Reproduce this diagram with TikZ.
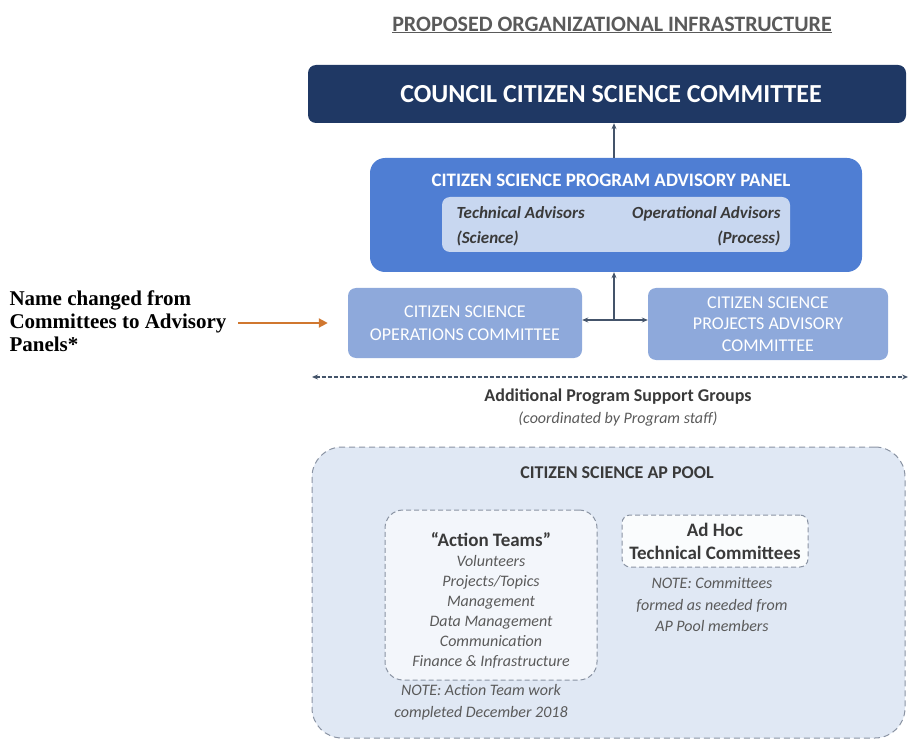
\documentclass[tikz,border=0pt]{standalone}
\usepackage{fontspec}
\setmainfont{Carlito}
\newfontfamily\notefont{Liberation Serif}
\usepackage{xcolor}
\usetikzlibrary{positioning,arrows.meta}
\definecolor{navyblue}{HTML}{1F3864}
\definecolor{panelblue}{HTML}{4F7ED3}
\definecolor{innerblue}{HTML}{C8D7F0}
\definecolor{cmtblue}{HTML}{8EA9DB}
\definecolor{poolblue}{HTML}{E0E8F4}
\definecolor{slate}{HTML}{44546A}
\definecolor{darktext}{HTML}{3A3A3A}
\definecolor{greytext}{HTML}{5A5A5A}
\definecolor{dashgrey}{HTML}{8A93A3}
\definecolor{arroworange}{HTML}{D0772F}

\begin{document}
\begin{tikzpicture}[x=1pt,y=-1pt,
  box/.style={rounded corners=#1, inner sep=0pt},
  box/.default=8pt,
  dashbox/.style={draw=dashgrey, line width=1pt, dash pattern=on 6pt off 4pt, rounded corners=#1, inner sep=0pt},
  conn/.style={draw=slate, line width=1.2pt},
  boldhead/.style={font=\fontsize{18}{23}\selectfont\bfseries, text=darktext, align=center},
  itnote/.style={font=\fontsize{16}{21.5}\selectfont\itshape, text=greytext, align=center}]
\useasboundingbox (0,0) rectangle (910,743);

\node (title) at (612,25) [font=\fontsize{22}{24}\selectfont\bfseries, text=greytext]
  {\underline{PROPOSED ORGANIZATIONAL INFRASTRUCTURE}};

\node (council) at (607,94) [box, fill=navyblue, minimum width=598pt, minimum height=58pt,
  text=white, font=\fontsize{26}{30}\selectfont\bfseries] {\hspace*{8pt}COUNCIL CITIZEN SCIENCE COMMITTEE};

\node (advisory) at (616,215) [box=15pt, fill=panelblue, minimum width=492pt, minimum height=114pt] {};
\node (advtitle) at (611,180) [text=white, font=\fontsize{19}{22}\selectfont\bfseries]
  {CITIZEN SCIENCE PROGRAM ADVISORY PANEL};
\node (inner) at (616,224.5) [box, fill=innerblue, minimum width=348pt, minimum height=55pt] {};
\node (tech) [anchor=west, align=left, text=darktext, font=\fontsize{17}{25}\selectfont\bfseries\itshape]
  at (453,226) {Technical Advisors\\(Science)};
\node (oper) [anchor=east, align=right, text=darktext, font=\fontsize{17}{25}\selectfont\bfseries\itshape]
  at (784,226) {Operational Advisors\\(Process)};

\node (ops) at (465,323) [box, fill=cmtblue, minimum width=234pt, minimum height=70pt,
  text=white, align=center, font=\fontsize{18}{23}\selectfont] {CITIZEN SCIENCE\\OPERATIONS COMMITTEE};
\node (projects) at (768,324) [box, fill=cmtblue, minimum width=240pt, minimum height=72pt,
  text=white, align=center, font=\fontsize{18}{21.5}\selectfont] {CITIZEN SCIENCE\\PROJECTS ADVISORY\\COMMITTEE};

\coordinate (hub) at (614,320);
\draw[conn, -{Stealth[length=6pt,width=5pt]}] (hub) -- (hub |- advisory.south);
\draw[conn, -{Stealth[length=6pt,width=5pt]}] (hub |- advisory.north) -- (hub |- council.south);
\draw[conn, {Stealth[length=6pt,width=5pt]}-{Stealth[length=6pt,width=5pt]}] (ops.east |- hub) -- (projects.west |- hub);

\node (renamed) [anchor=west, align=left, font=\notefont\fontsize{21}{23}\selectfont\bfseries]
  at (6,321) {Name changed from\\Committees to Advisory\\Panels*};
\draw[draw=arroworange, line width=2pt, -{Triangle[length=9pt,width=9pt]}, shorten <=8pt, shorten >=20pt]
  (renamed.east |- ops.west) -- (ops.west);

\coordinate (dashleft) at (312,377);
\coordinate (dashright) at (908,377);
\draw[slate, line width=1.3pt, dash pattern=on 4pt off 2pt,
  {Stealth[length=6pt,width=5pt]}-{Stealth[length=6pt,width=5pt]}] (dashleft) -- (dashright);
\node (support) at (618,397) [boldhead] {Additional Program Support Groups};
\node (staff) at (618,419) [itnote] {(coordinated by Program staff)};

\node (pool) at (608.5,592.5) [dashbox=30pt, fill=poolblue, minimum width=593pt, minimum height=291pt] {};
\node (pooltitle) at (617,473) [boldhead] {CITIZEN SCIENCE AP POOL};

\node (action) at (491,595) [dashbox=18pt, dash pattern=on 5pt off 3pt, fill=poolblue!40!white,
  minimum width=212pt, minimum height=170pt] {};
\node (actionhead) at (491,540) [boldhead, font=\fontsize{19}{20}\selectfont\bfseries] {``Action Teams''};
\node (actionlist) at (491,612) [itnote, font=\fontsize{16}{20}\selectfont\itshape]
  {Volunteers\\Projects/Topics\\Management\\Data Management\\Communication\\Finance \& Infrastructure};
\node (actionnote) at (481,702) [itnote] {NOTE: Action Team work\\completed December 2018};

\node (adhoc) at (715,541) [dashbox=8pt, dash pattern=on 5pt off 3pt, fill=white!85!poolblue,
  minimum width=186pt, minimum height=52pt,
  boldhead, font=\fontsize{19}{23}\selectfont\bfseries] {Ad Hoc\\Technical Committees};
\node (adhocnote) at (712,605) [itnote] {NOTE: Committees\\formed as needed from\\AP Pool members};
\end{tikzpicture}
\end{document}
